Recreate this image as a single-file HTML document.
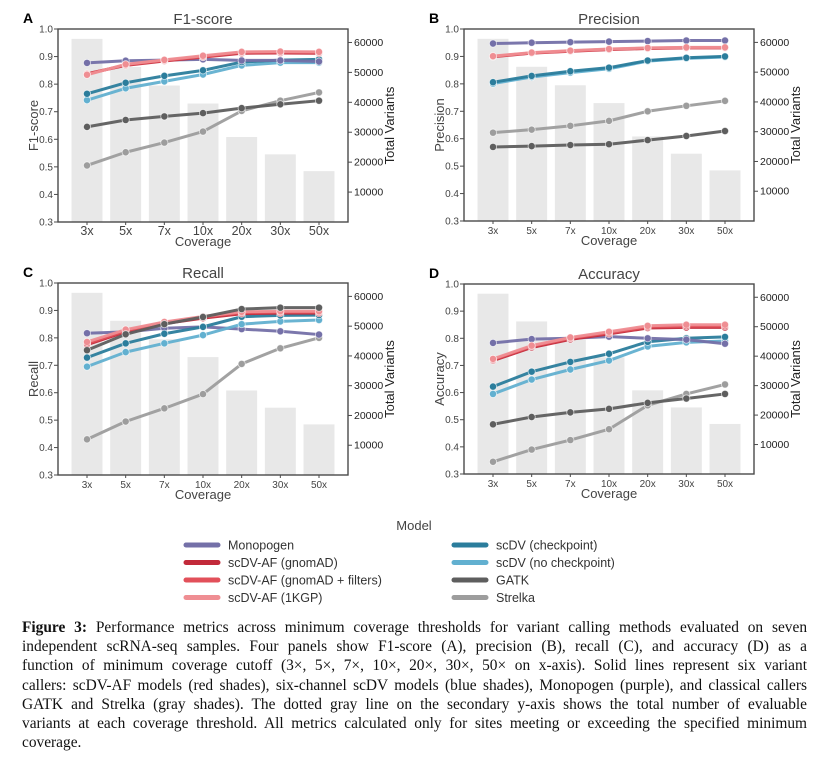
<!DOCTYPE html>
<html><head><meta charset="utf-8"><style>
body{margin:0;background:#fff;width:828px;height:757px;overflow:hidden;position:relative;font-family:"Liberation Sans",sans-serif}
svg{position:absolute;left:0;top:0}
#cap{position:absolute;left:22px;top:618px;width:785px;font-family:"Liberation Serif",serif;font-size:15.4px;line-height:19.2px;color:#111}
#cap div{text-align:justify;text-align-last:justify;white-space:nowrap}
#cap div.last{text-align-last:left}
</style></head><body>
<svg id="chart" width="828" height="610"></svg>
<div id="cap">
<div><b>Figure 3:</b> Performance metrics across minimum coverage thresholds for variant calling methods evaluated on seven</div>
<div>independent scRNA-seq samples. Four panels show F1-score (A), precision (B), recall (C), and accuracy (D) as a</div>
<div>function of minimum coverage cutoff (3×, 5×, 7×, 10×, 20×, 30×, 50× on x-axis). Solid lines represent six variant</div>
<div>callers: scDV-AF models (red shades), six-channel scDV models (blue shades), Monopogen (purple), and classical callers</div>
<div>GATK and Strelka (gray shades). The dotted gray line on the secondary y-axis shows the total number of evaluable</div>
<div>variants at each coverage threshold. All metrics calculated only for sites meeting or exceeding the specified minimum</div>
<div class="last">coverage.</div>
</div>
<script>
const categories=["3x","5x","7x","10x","20x","30x","50x"];
const totalVariants=[61200,51800,45600,39600,28400,22600,17000];
const models=["Monopogen","scDV-AF (gnomAD)","scDV-AF (gnomAD + filters)","scDV-AF (1KGP)","scDV (checkpoint)","scDV (no checkpoint)","GATK","Strelka"];
const colors=["#7470a8","#c22a3a","#e2505a","#ef8e93","#2b7d9c","#62b0d0","#5e5e5e","#9d9d9d"];
const f1Values=[
[.877,.885,.887,.89,.886,.886,.882],
[.838,.868,.884,.898,.912,.913,.912],
[.836,.870,.886,.900,.915,.916,.915],
[.834,.872,.888,.903,.917,.918,.917],
[.765,.805,.83,.85,.88,.887,.89],
[.742,.785,.81,.835,.868,.878,.878],
[.645,.67,.683,.695,.713,.727,.74],
[.505,.553,.588,.628,.703,.74,.77]];
const precisionValues=[
[.947,.95,.952,.954,.956,.958,.958],
[.899,.912,.919,.925,.929,.931,.931],
[.900,.913,.920,.926,.930,.932,.932],
[.901,.914,.921,.927,.931,.933,.933],
[.806,.829,.846,.859,.885,.895,.900],
[.801,.825,.841,.855,.883,.893,.898],
[.57,.573,.577,.58,.595,.61,.628],
[.622,.633,.647,.665,.70,.72,.738]];
const recallValues=[
[.817,.822,.835,.84,.832,.824,.812],
[.775,.822,.852,.872,.888,.890,.890],
[.779,.826,.856,.876,.892,.894,.894],
[.785,.830,.858,.878,.895,.897,.897],
[.728,.78,.815,.84,.877,.882,.883],
[.695,.748,.78,.81,.85,.86,.865],
[.755,.813,.85,.876,.905,.91,.91],
[.43,.495,.543,.595,.705,.762,.80]];
const accuracyValues=[
[.783,.797,.80,.806,.80,.795,.78],
[.718,.766,.796,.816,.838,.840,.840],
[.721,.770,.800,.820,.842,.845,.845],
[.724,.773,.803,.824,.846,.850,.850],
[.622,.677,.713,.743,.787,.80,.805],
[.595,.648,.685,.718,.77,.785,.79],
[.483,.51,.527,.54,.562,.578,.595],
[.345,.39,.425,.465,.553,.595,.63]];
const leftTicks=[0.3,0.4,0.5,0.6,0.7,0.8,0.9,1.0];
const rightTicks=[10000,20000,30000,40000,50000,60000];

const NS="http://www.w3.org/2000/svg";
const svg=document.getElementById('chart');
function mk(tag,attrs,parent,txt){const e=document.createElementNS(NS,tag);for(const k in attrs)e.setAttribute(k,attrs[k]);if(txt!==undefined)e.textContent=txt;(parent||svg).appendChild(e);return e;}

const panels=[
{letter:"A",title:"F1-score",ylab:"F1-score",vals:f1Values,x0:58,x1:348,y0:29,y1:222,order:[7,6,5,4,0,1,2,3]},
{letter:"B",title:"Precision",ylab:"Precision",vals:precisionValues,x0:464,x1:754,y0:29,y1:221,order:[7,6,5,4,0,1,2,3]},
{letter:"C",title:"Recall",ylab:"Recall",vals:recallValues,x0:58,x1:348,y0:283,y1:475,order:[7,0,5,4,1,2,3,6]},
{letter:"D",title:"Accuracy",ylab:"Accuracy",vals:accuracyValues,x0:464,x1:754,y0:284,y1:474,order:[7,6,5,4,0,1,2,3]}];

panels.forEach(p=>{
  const g=mk('g',{});
  
  
  const xs=i=>p.x0+(i+0.75)*(p.x1-p.x0)/7.5;
  const ys=v=>p.y1-(v-0.3)/0.7*(p.y1-p.y0);
  const y2=v=>p.y1-v/64500*(p.y1-p.y0);
  const bw=(p.x1-p.x0)/7.5*0.8;
  totalVariants.forEach((t,i)=>{
    const r=mk('rect',{x:xs(i)-bw/2,y:y2(t),width:bw,height:p.y1-y2(t),fill:"#e8e8e8"},g);
    
    
  });
  p.order.forEach(m=>{
    const pts=p.vals[m].map((v,i)=>xs(i)+","+ys(v)).join(" ");
    const l=mk('polyline',{points:pts,fill:"none",stroke:colors[m],"stroke-width":3,"stroke-linejoin":"round","stroke-opacity":0.95},g);
    
    
    p.vals[m].forEach((v,i)=>{
      const c=mk('circle',{cx:xs(i),cy:ys(v),r:3.6,fill:colors[m],stroke:"#fff","stroke-width":0.8,"stroke-opacity":0.7},g);
      
      
    });
  });
  const fr=mk('rect',{x:p.x0,y:p.y0,width:p.x1-p.x0,height:p.y1-p.y0,fill:"none",stroke:"#4a4a4a","stroke-width":1.4},g);
  
  
  leftTicks.forEach(t=>{
    mk('line',{x1:p.x0-4,x2:p.x0,y1:ys(t),y2:ys(t),stroke:"#4a4a4a","stroke-width":1},g);
    const tx=mk('text',{x:p.x0-5,y:ys(t)+3.5,"text-anchor":"end","font-size":"10","fill":"#444"},g,t.toFixed(1));
    
    
  });
  rightTicks.forEach(t=>{
    mk('line',{x1:p.x1,x2:p.x1+4,y1:y2(t),y2:y2(t),stroke:"#4a4a4a","stroke-width":1},g);
    const tx=mk('text',{x:p.x1+6,y:y2(t)+3.5,"font-size":"10.5","fill":"#222"},g,String(t));
    
    
  });
  categories.forEach((c,i)=>{
    mk('line',{x1:xs(i),x2:xs(i),y1:p.y1,y2:p.y1+3,stroke:"#4a4a4a","stroke-width":1},g);
    const tx=mk('text',{x:xs(i),y:p.y1+13,"text-anchor":"middle","font-size":p.letter=="A"?"12.5":"10","fill":"#444"},g,c);
    
    
  });
  const xt=mk('text',{x:(p.x0+p.x1)/2,y:p.y1+24,"text-anchor":"middle","font-size":"13","fill":"#444"},g,"Coverage");
  
  
  const cy=(p.y0+p.y1)/2;
  const lx=p.x0-20;
  const yt=mk('text',{x:lx,y:cy,"text-anchor":"middle","font-size":"13","fill":"#444",transform:`rotate(-90 ${lx} ${cy})`},g,p.ylab);
  
  
  const rx=p.x1+46;
  const rt=mk('text',{x:rx,y:cy,"text-anchor":"middle","font-size":"13","fill":"#222",transform:`rotate(-90 ${rx} ${cy})`},g,"Total Variants");
  
  
  const tt=mk('text',{x:(p.x0+p.x1)/2,y:p.y0-5,"text-anchor":"middle","font-size":"15","fill":"#444"},g,p.title);
  
  
  const lt=mk('text',{x:p.x0-35,y:p.y0-6,"font-size":"14","font-weight":"bold","fill":"#000"},g,p.letter);
  
  
});

const lg=mk('g',{});


const ltitle=mk('text',{x:414,y:530,"text-anchor":"middle","font-size":"13","fill":"#444"},lg,"Model");


models.forEach((m,i)=>{
  const col=i<4?0:1, row=i%4;
  const sx=col?454:186, y=545+row*17.5;
  const e=mk('g',{},lg);
  
  
  mk('line',{x1:sx,x2:sx+32,y1:y,y2:y,stroke:colors[i],"stroke-width":5,"stroke-linecap":"round"},e);
  mk('text',{x:sx+42,y:y+4.5,"font-size":"12.5","fill":"#333"},e,m);
});
</script>
</body></html>
